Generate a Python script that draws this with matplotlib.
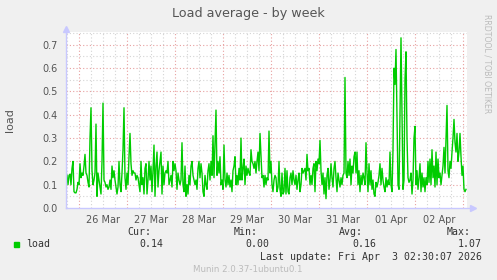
import numpy as np
import pandas as pd
import matplotlib
matplotlib.use("Agg")
import matplotlib.pyplot as plt

# load average, 30 minute steps
load = [
    # Mar 25 18:00 -> Mar 27 20:00
    0.14, 0.10, 0.14, 0.145, 0.10, 0.17, 0.20, 0.07, 0.065, 0.065,
    0.08, 0.11, 0.10, 0.19, 0.13, 0.15, 0.14, 0.18, 0.23, 0.15,
    0.14, 0.11, 0.09, 0.30, 0.43, 0.16, 0.10, 0.12, 0.15, 0.36,
    0.05, 0.15, 0.12, 0.09, 0.06, 0.20, 0.45, 0.12, 0.11, 0.09,
    0.10, 0.08, 0.09, 0.12, 0.08, 0.18, 0.13, 0.16, 0.12, 0.09,
    0.06, 0.09, 0.20, 0.10, 0.07, 0.15, 0.25, 0.43, 0.13, 0.08,
    0.15, 0.10, 0.22, 0.32, 0.19, 0.14, 0.16, 0.15, 0.15, 0.12,
    0.14, 0.13, 0.10, 0.07, 0.20, 0.10, 0.13, 0.06, 0.17, 0.19,
    0.06, 0.12, 0.20, 0.12, 0.18, 0.07, 0.16, 0.27, 0.05, 0.18,
    0.24, 0.09, 0.16, 0.20, 0.24, 0.06, 0.18, 0.10, 0.15, 0.16,
    # Mar 27 20:00 -> Mar 29 22:00
    0.15, 0.20, 0.10, 0.12, 0.14, 0.09, 0.20, 0.16, 0.19, 0.16,
    0.08, 0.15, 0.12, 0.10, 0.12, 0.28, 0.10, 0.07, 0.18, 0.05,
    0.10, 0.06, 0.14, 0.10, 0.18, 0.20, 0.14, 0.12, 0.10, 0.12,
    0.08, 0.17, 0.20, 0.13, 0.19, 0.15, 0.07, 0.05, 0.14, 0.10,
    0.08, 0.16, 0.19, 0.12, 0.20, 0.14, 0.31, 0.13, 0.27, 0.42,
    0.14, 0.20, 0.15, 0.22, 0.10, 0.12, 0.08, 0.27, 0.12, 0.09,
    0.15, 0.10, 0.14, 0.09, 0.12, 0.07, 0.16, 0.18, 0.22, 0.10,
    0.14, 0.10, 0.17, 0.12, 0.30, 0.12, 0.17, 0.21, 0.10, 0.18,
    0.14, 0.17, 0.15, 0.14, 0.25, 0.20, 0.19, 0.17, 0.20, 0.15,
    0.20, 0.24, 0.16, 0.32, 0.22, 0.13, 0.14, 0.09, 0.14, 0.10,
    # Mar 29 22:00 -> Apr 01 00:00
    0.13, 0.12, 0.33, 0.15, 0.20, 0.10, 0.07, 0.12, 0.14, 0.13,
    0.07, 0.09, 0.20, 0.08, 0.05, 0.15, 0.06, 0.07, 0.17, 0.06,
    0.16, 0.07, 0.06, 0.13, 0.15, 0.10, 0.16, 0.12, 0.10, 0.14,
    0.08, 0.12, 0.15, 0.07, 0.10, 0.17, 0.15, 0.16, 0.17, 0.12,
    0.23, 0.16, 0.17, 0.10, 0.14, 0.10, 0.17, 0.19, 0.07, 0.20,
    0.16, 0.21, 0.19, 0.29, 0.16, 0.10, 0.15, 0.06, 0.13, 0.04,
    0.14, 0.17, 0.08, 0.12, 0.19, 0.13, 0.09, 0.17, 0.20, 0.13,
    0.07, 0.15, 0.12, 0.09, 0.13, 0.10, 0.14, 0.15, 0.56, 0.15,
    0.13, 0.20, 0.14, 0.21, 0.10, 0.18, 0.15, 0.22, 0.24, 0.15,
    0.24, 0.10, 0.16, 0.07, 0.14, 0.10, 0.15, 0.13, 0.10, 0.28,
    # Apr 01 00:00 -> Apr 03 01:30
    0.15, 0.07, 0.19, 0.10, 0.16, 0.08, 0.12, 0.06, 0.05, 0.11,
    0.09, 0.11, 0.14, 0.19, 0.10, 0.17, 0.12, 0.09, 0.07, 0.13,
    0.09, 0.12, 0.10, 0.24, 0.10, 0.07, 0.25, 0.60, 0.53, 0.68,
    0.40, 0.10, 0.08, 0.40, 0.73, 0.40, 0.08, 0.12, 0.55, 0.67,
    0.30, 0.13, 0.11, 0.12, 0.15, 0.06, 0.12, 0.30, 0.35, 0.10,
    0.16, 0.08, 0.13, 0.19, 0.07, 0.15, 0.09, 0.13, 0.07, 0.13,
    0.10, 0.20, 0.11, 0.21, 0.10, 0.25, 0.13, 0.18, 0.09, 0.24,
    0.10, 0.21, 0.13, 0.15, 0.10, 0.14, 0.18, 0.26, 0.15, 0.30,
    0.44, 0.16, 0.13, 0.20, 0.17, 0.24, 0.30, 0.38, 0.28, 0.24,
    0.32, 0.20, 0.24, 0.32, 0.22, 0.14, 0.18, 0.08, 0.07, 0.08,
]
times = pd.date_range("2026-03-25 18:00", periods=len(load), freq="30min")

day_labels = ["26 Mar", "27 Mar", "28 Mar", "29 Mar", "30 Mar", "31 Mar", "01 Apr", "02 Apr"]
label_times = pd.date_range("2026-03-26 12:00", periods=len(day_labels), freq="D")
y_ticks = [0.0, 0.1, 0.2, 0.3, 0.4, 0.5, 0.6, 0.7]

stat_names = ["Cur:", "Min:", "Avg:", "Max:"]
stat_values = ["0.14", "0.00", "0.16", "1.07"]

W, H = 497, 280
BG = "#F0F0F0"
TXT = "#555555"
AXC = "#C8C8FF"

fig = plt.figure(figsize=(W / 100, H / 100), dpi=100, facecolor=BG)
ax = fig.add_axes([66 / W, 1 - 208 / H, 401 / W, 176 / H])
ax.set_facecolor("white")

x0 = pd.Timestamp("2026-03-25 17:30")
x1 = pd.Timestamp("2026-04-03 02:00")
ax.set_xlim(x0, x1)
ax.set_ylim(0, 0.755)

# grid: gray every 6h / 0.05, red at midnight / 0.1
for t in pd.date_range("2026-03-25 18:00", "2026-04-03 00:00", freq="6h"):
    major = t.hour == 0
    ax.axvline(t, color="#E8A0A0" if major else "#D4D4D4", lw=0.8,
               ls=(0, (1, 2)), zorder=1)
for i in range(1, 16):
    v = i * 0.05
    major = i % 2 == 0
    ax.axhline(v, color="#E8A0A0" if major else "#D4D4D4", lw=0.8,
               ls=(0, (1, 2)), zorder=1)

ax.plot(times, load, color="#00CC00", lw=1.0, zorder=3)

for s in ax.spines.values():
    s.set_visible(False)
# axes with arrows
ax.plot([0, 1 + 6 / 401], [0, 0], color=AXC, lw=1, transform=ax.transAxes, clip_on=False, zorder=4)
ax.plot([0, 0], [0, 1 + 3 / 176], color=AXC, lw=1, transform=ax.transAxes, clip_on=False, zorder=4)
ax.plot([1 + 6 / 401], [0], marker=">", ms=4, color=AXC, transform=ax.transAxes, clip_on=False, zorder=4)
ax.plot([0], [1 + 3 / 176], marker="^", ms=4, color=AXC, transform=ax.transAxes, clip_on=False, zorder=4)

ax.set_xticks(label_times)
ax.set_xticklabels(day_labels)
ax.set_yticks(y_ticks)
ax.set_yticklabels([f"{v:.1f}" for v in y_ticks])
ax.tick_params(axis="both", length=0, labelsize=7, colors=TXT)
ax.tick_params(axis="x", pad=5)
ax.tick_params(axis="y", pad=6)

fig.text(0.5, 1 - 14 / H, "Load average - by week", ha="center", va="center",
         fontsize=9.2, color=TXT)
fig.text(10 / W, 1 - 120 / H, "load", rotation=90, ha="center", va="center",
         fontsize=8, color=TXT)
fig.text(487 / W, 1 - 14 / H, "RRDTOOL / TOBI OETIKER", rotation=270, ha="center", va="top",
         fontsize=5.6, color="#BBBBBB")

# legend block
mono = "DejaVu Sans Mono"
fig.patches.append(plt.Rectangle((14 / W, 1 - 247 / H), 5 / W, 5 / H, transform=fig.transFigure,
                                 color="#00CC00", figure=fig))
fig.text(26 / W, 1 - 244 / H, "load", ha="left", va="center", fontsize=7.1,
         family=mono, color="#333333")
name_right = [151, 258, 363, 471]
val_right = [163, 269, 376, 482]
for nm, vl, nx, vx in zip(stat_names, stat_values, name_right, val_right):
    fig.text(nx / W, 1 - 232 / H, nm, ha="right", va="center", fontsize=7.1,
             family=mono, color="#333333")
    fig.text(vx / W, 1 - 244 / H, vl, ha="right", va="center", fontsize=7.1,
             family=mono, color="#333333")
fig.text(482 / W, 1 - 256.5 / H, "Last update: Fri Apr  3 02:30:07 2026", ha="right",
         va="center", fontsize=7.1, family=mono, color="#333333")
fig.text(248 / W, 1 - 269 / H, "Munin 2.0.37-1ubuntu0.1", ha="center", va="center",
         fontsize=6.2, color="#BBBBBB")

fig.savefig("out.png", dpi=100, facecolor=BG)
